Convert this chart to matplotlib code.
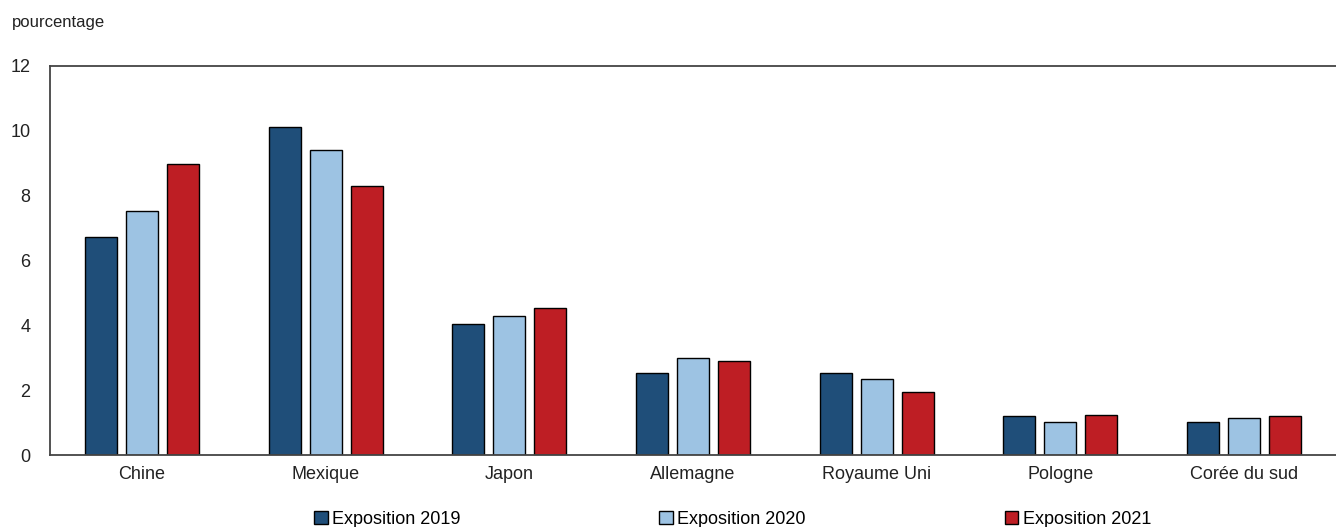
import numpy as np
import matplotlib
matplotlib.use("Agg")
import matplotlib.pyplot as plt
from matplotlib import font_manager

pays = ['Chine', 'Mexique', 'Japon', 'Allemagne', 'Royaume Uni', 'Pologne', 'Corée du sud']
expo_2019 = [6.73, 10.13, 4.05, 2.52, 2.54, 1.19, 1.01]
expo_2020 = [7.52, 9.40, 4.30, 3.00, 2.33, 1.03, 1.15]
expo_2021 = [8.98, 8.29, 4.55, 2.89, 1.93, 1.22, 1.20]
series = [('Exposition 2019', expo_2019, '#1f4e79'),
          ('Exposition 2020', expo_2020, '#9dc3e3'),
          ('Exposition 2021', expo_2021, '#be1e24')]

noms = {f.name for f in font_manager.fontManager.ttflist}
police = 'Liberation Sans Narrow' if 'Liberation Sans Narrow' in noms else 'Liberation Sans'
plt.rcParams['font.family'] = [police, 'DejaVu Sans']
plt.rcParams['font.size'] = 13

fig = plt.figure(figsize=(13.36, 5.27), dpi=100)
ax = fig.add_axes([50 / 1336, 72 / 527, 1286 / 1336, 389 / 527])

x = np.arange(len(pays))
largeur = 0.174
pas = 0.223
for i, (nom, vals, coul) in enumerate(series):
    ax.bar(x + (i - 1) * pas, vals, largeur, color=coul, edgecolor='black',
           linewidth=1, label=nom)

ax.set_xlim(-0.5, len(pays) - 0.5)
ax.set_ylim(0, 12)
ax.set_yticks(range(0, 13, 2))
ax.set_xticks(x)
ax.set_xticklabels(pays)
ax.tick_params(length=0, labelsize=13, colors='#222222')
ax.tick_params(axis='y', pad=14)
ax.tick_params(axis='x', pad=8)
ax.spines['right'].set_visible(False)
for s in ['left', 'top', 'bottom']:
    ax.spines[s].set_color('#444444')
    ax.spines[s].set_linewidth(1.3)

fig.text(12 / 1336, 1 - 22 / 527, 'pourcentage', fontsize=12, va='center', color='#222222')

fig.legend(loc='center left', bbox_to_anchor=(298 / 1336, 1 - 519 / 527), ncol=3,
           frameon=False, handlelength=0.75, handleheight=0.75, handletextpad=0.25,
           columnspacing=11.0, fontsize=13)

fig.savefig('out.png', dpi=100)
